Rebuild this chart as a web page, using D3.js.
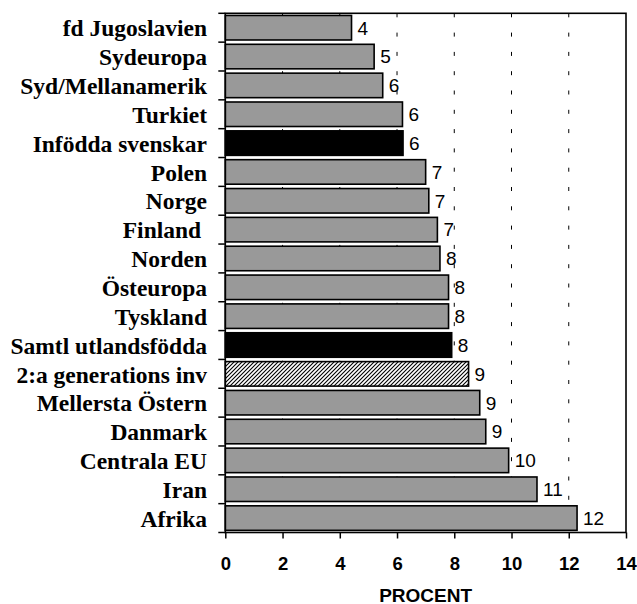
<!DOCTYPE html>
<html><head><meta charset="utf-8">
<script src="https://cdn.jsdelivr.net/npm/d3@7"></script>
<style>body{margin:0;background:#fff}svg{display:block}</style>
</head><body>
<svg id="c" width="637" height="604"></svg>
<script>
const categories = ["fd Jugoslavien","Sydeuropa","Syd/Mellanamerik","Turkiet","Infödda svenskar","Polen","Norge","Finland ","Norden","Östeuropa","Tyskland","Samtl utlandsfödda","2:a generations inv","Mellersta Östern","Danmark","Centrala EU","Iran","Afrika"];
const values = [4.41,5.2,5.5,6.19,6.21,7.0,7.11,7.41,7.5,7.8,7.8,7.91,8.5,8.89,9.1,9.9,10.89,12.29];
const valueLabels = ["4","5","6","6","6","7","7","7","8","8","8","8","9","9","9","10","11","12"];
const kinds = ["g","g","g","g","b","g","g","g","g","g","g","b","h","g","g","g","g","g"];
const xTicks = [0,2,4,6,8,10,12,14];
const xTitle = "PROCENT";

const svg = d3.select("#c");
const L = 225.3, R = 626, T = 13.3, B = 532.5;
const x = d3.scaleLinear().domain([0,14]).range([L,R]);
const y = d3.scaleBand().domain(categories).range([T,B]).paddingInner(0.15).paddingOuter(0.075);

const defs = svg.append("defs");
const pat = defs.append("pattern").attr("id","hatch").attr("patternUnits","userSpaceOnUse")
  .attr("width",4).attr("height",4);
pat.append("rect").attr("width",4).attr("height",4).attr("fill","#fff");
pat.append("path").attr("d","M-1,1 l2,-2 M0,4 l4,-4 M3,5 l2,-2").attr("stroke","#000").attr("stroke-width",1.1);

// gridlines
svg.append("g").selectAll("line").data(xTicks.filter(t=>t>0 && t<14)).join("line")
  .attr("x1",d=>x(d)).attr("x2",d=>x(d)).attr("y1",T).attr("y2",B)
  .attr("stroke","#000").attr("stroke-width",1).attr("stroke-dasharray","4,15.3");

// bars
const fills = {g:"#999999", b:"#000000", h:"url(#hatch)"};
svg.append("g").selectAll("rect").data(categories).join("rect")
  .attr("x",x(0)).attr("y",d=>y(d))
  .attr("width",(d,i)=>x(values[i])-x(0)).attr("height",y.bandwidth())
  .attr("fill",(d,i)=>fills[kinds[i]]).attr("stroke","#000").attr("stroke-width",1.6);

// value labels
svg.append("g").selectAll("text").data(categories).join("text")
  .attr("x",(d,i)=>x(values[i])+6).attr("y",d=>y(d)+y.bandwidth()/2)
  .attr("dy","0.36em").attr("font-family","Liberation Sans, Arial, sans-serif")
  .attr("font-size",19).text((d,i)=>valueLabels[i]);

// frame
svg.append("rect").attr("x",L).attr("y",T).attr("width",R-L).attr("height",B-T)
  .attr("fill","none").attr("stroke","#000").attr("stroke-width",1.6);

// left axis ticks at band boundaries
const bounds = d3.range(categories.length+1).map(i=>T + i*(B-T)/categories.length);
svg.append("g").selectAll("line").data(bounds).join("line")
  .attr("x1",L-7).attr("x2",L).attr("y1",d=>d).attr("y2",d=>d)
  .attr("stroke","#000").attr("stroke-width",1.5);

// category labels
svg.append("g").selectAll("text").data(categories).join("text")
  .attr("x",207).attr("y",d=>y(d)+y.bandwidth()/2).attr("dy","0.37em")
  .attr("text-anchor","end").attr("font-family","Liberation Serif, Times New Roman, serif")
  .attr("font-weight","bold").attr("font-size",23.5).style("white-space","pre").text(d=>d);

// bottom axis
const xa = svg.append("g").attr("transform",`translate(0,${B})`)
  .call(d3.axisBottom(x).tickValues(xTicks).tickSize(6).tickPadding(18).tickFormat(d3.format("d")));
xa.select(".domain").remove();
xa.selectAll("line").attr("stroke","#000").attr("stroke-width",1.5);
xa.selectAll("text").attr("font-family","Liberation Sans, Arial, sans-serif")
  .attr("font-weight","bold").attr("font-size",18.5).attr("fill","#000");

svg.append("text").attr("x",(L+R)/2).attr("y",601.5).attr("text-anchor","middle")
  .attr("font-family","Liberation Sans, Arial, sans-serif").attr("font-weight","bold")
  .attr("font-size",19).text(xTitle);
</script>
</body></html>
